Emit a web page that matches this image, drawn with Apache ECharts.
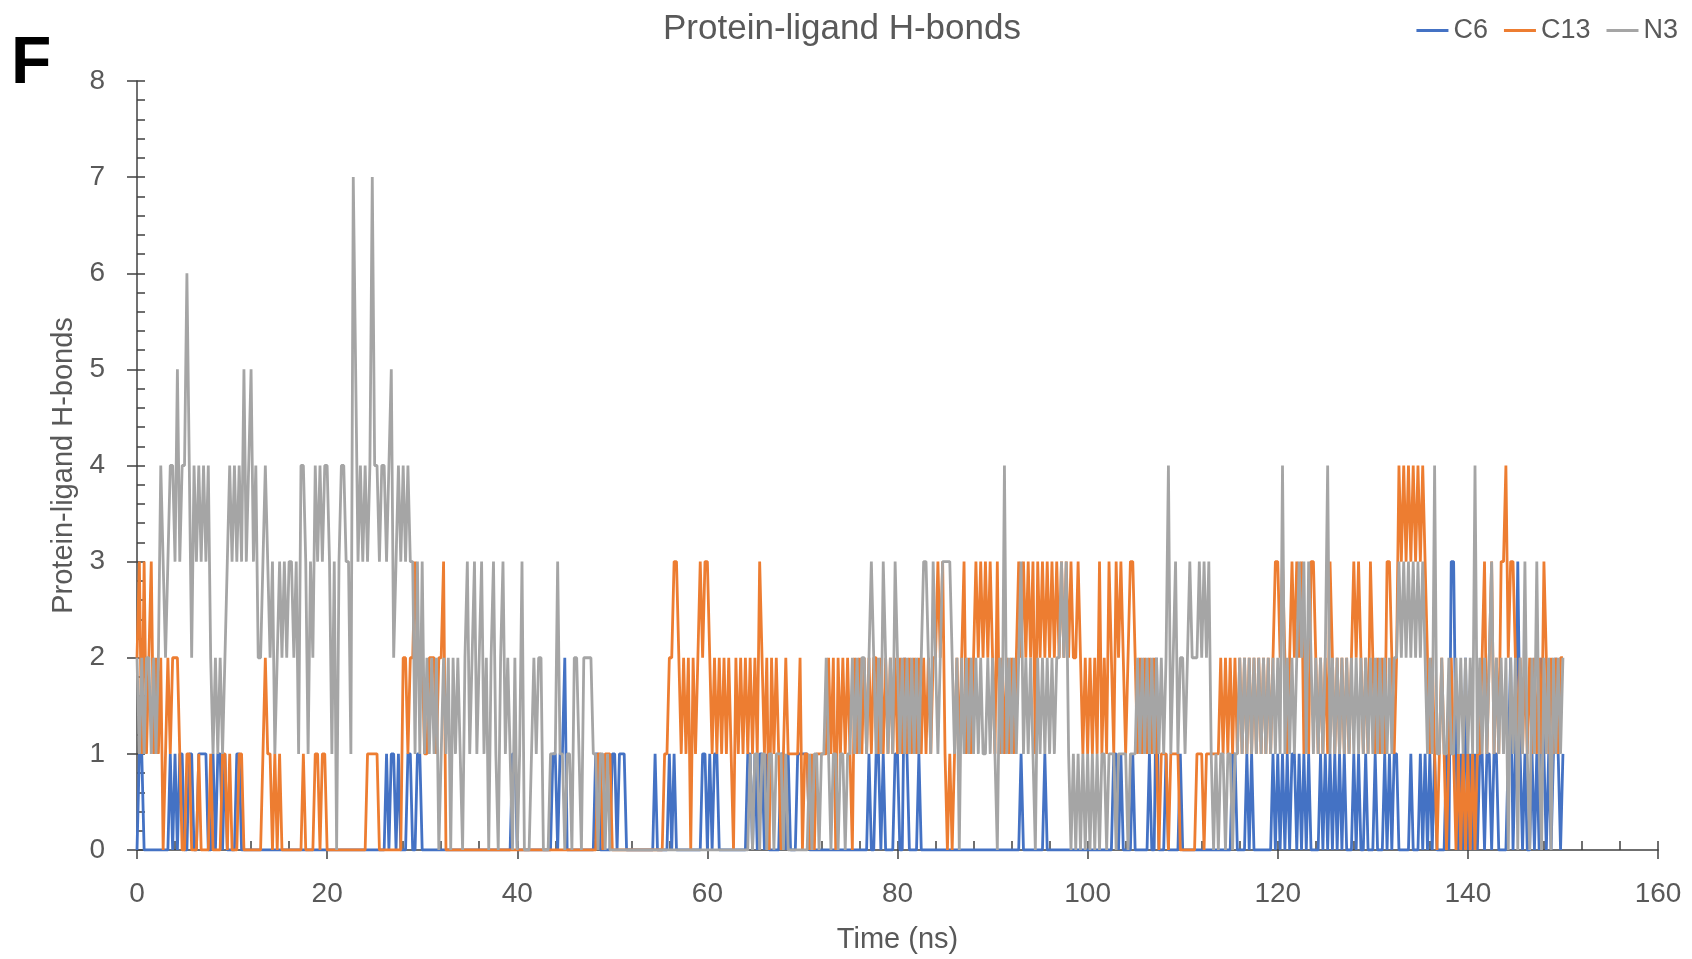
<!DOCTYPE html>
<html>
<head>
<meta charset="utf-8">
<title>Protein-ligand H-bonds</title>
<script src="https://cdn.jsdelivr.net/npm/echarts@6/dist/echarts.min.js"></script>
<style>
  html, body { margin: 0; padding: 0; background: #ffffff; }
  #chart { width: 1692px; height: 959px; }
</style>
</head>
<body>
<div id="chart"></div>
<script>
// Hydrogen-bond counts sampled every 0.25 ns, 0–150 ns (one row = 5 ns)
const timeStep = 0.25;
const seriesNames = ['C6', 'C13', 'N3'];
const xTicks = [0, 20, 40, 60, 80, 100, 120, 140, 160];
const yTicks = [0, 1, 2, 3, 4, 5, 6, 7, 8];

const c6 = [
  0,1,1,0,0, 0,0,0,0,0, 0,0,0,0,1, 0,1,0,1,1,
  0,0,1,1,0, 0,1,1,1,1, 0,0,1,0,1, 1,0,1,0,0,
  0,0,1,1,0, 0,0,0,0,0, 0,0,0,0,0, 0,0,0,0,0,
  0,0,0,0,0, 0,0,0,0,0, 0,0,0,0,0, 0,0,0,0,0,
  0,0,0,0,0, 0,0,0,0,0, 0,0,0,0,0, 0,0,0,0,0,
  0,0,0,0,0, 1,0,1,1,0, 1,0,0,0,1, 1,0,0,1,1,
  0,0,0,0,0, 0,0,0,0,0, 0,0,0,0,0, 0,0,0,0,0,
  0,0,0,0,0, 0,0,0,0,0, 0,0,0,0,0, 0,0,0,1,1,
  0,0,0,0,0, 0,0,0,0,0, 0,0,0,0,0, 1,1,0,1,1,
  2,0,0,0,0, 0,0,0,0,0, 0,0,0,1,1, 0,0,0,0,0,
  1,1,0,1,1, 1,0,0,0,0, 0,0,0,0,0, 0,0,0,1,0,
  0,0,0,0,1, 0,1,0,0,0, 0,0,0,0,0, 0,0,0,1,1,
  0,1,0,1,1, 0,0,0,0,0, 0,0,0,0,0, 0,0,1,1,0,
  1,0,1,1,0, 1,0,0,0,0, 0,1,1,0,1, 0,0,0,1,1,
  1,1,1,0,0, 0,0,0,0,0, 0,0,0,0,0, 0,0,0,0,0,
  0,0,0,0,0, 0,0,0,1,0, 0,1,1,0,1, 0,0,0,0,1,
  1,0,0,2,1, 0,0,0,0,1, 0,0,0,0,0, 0,0,0,0,0,
  0,0,0,0,0, 0,0,0,0,0, 0,0,0,0,0, 0,0,0,0,0,
  0,0,0,0,0, 0,0,0,0,0, 0,0,1,0,0, 0,0,0,0,0,
  0,0,1,0,0, 0,0,0,0,0, 0,0,0,0,0, 0,0,0,0,0,
  0,0,0,0,0, 0,0,0,0,0, 0,1,1,0,1, 0,0,0,0,1,
  0,0,0,0,0, 0,1,0,0,2, 0,0,0,1,0, 0,0,0,0,1,
  0,0,0,0,0, 0,0,0,0,0, 0,0,0,0,0, 0,0,0,0,0,
  0,1,1,0,0, 0,0,1,0,1, 0,0,0,0,0, 0,0,0,1,0,
  1,0,1,0,1, 0,1,1,0,1, 0,1,0,1,0, 0,0,0,1,0,
  1,0,1,0,1, 0,1,0,1,0, 0,0,1,0,1, 0,0,1,0,0,
  0,1,0,0,0, 1,0,1,0,1, 1,0,0,0,0, 0,1,0,0,0,
  1,0,1,0,1, 0,1,0,0,0, 0,1,0,3,3, 1,0,1,0,2,
  0,1,0,1,0, 1,1,0,1,1, 0,1,1,0,0, 0,0,1,2,0,
  1,3,1,0,1, 0,0,1,0,1, 0,2,1,0,1, 0,1,2,1,0,
  1
];

const c13 = [
  2,3,1,3,1, 2,3,1,2,1, 2,0,1,2,1, 2,2,2,1,0,
  0,1,1,0,0, 0,1,0,0,0, 0,1,0,0,0, 0,1,1,0,1,
  0,0,0,1,1, 0,0,0,0,0, 0,0,0,1,2, 1,1,0,1,0,
  1,0,0,0,0, 0,0,0,0,0, 1,0,0,0,0, 1,1,0,1,1,
  0,0,0,0,0, 0,0,0,0,0, 0,0,0,0,0, 0,0,1,1,1,
  1,1,0,0,0, 0,0,0,0,0, 0,0,2,2,1, 2,2,3,2,2,
  2,1,1,2,2, 2,1,2,2,3, 0,0,0,0,0, 0,0,0,0,0,
  0,0,0,0,0, 0,0,0,0,0, 0,0,0,0,0, 0,0,0,0,0,
  0,0,0,0,0, 0,0,0,0,0, 0,0,0,0,0, 0,0,0,0,0,
  0,0,0,0,0, 0,0,0,0,0, 0,0,0,0,1, 1,0,1,1,1,
  0,0,0,0,0, 0,0,0,0,0, 0,0,0,0,0, 0,0,0,0,0,
  0,0,1,1,2, 2,3,3,2,1, 2,1,2,0,2, 1,2,3,2,3,
  3,2,1,2,1, 2,1,2,1,2, 1,0,2,1,2, 1,2,1,2,1,
  2,1,3,2,1, 2,0,2,1,2, 1,0,1,2,1, 1,1,1,1,2,
  0,1,1,0,1, 0,1,1,1,1, 1,2,1,2,0, 2,1,2,1,2,
  1,0,2,1,2, 1,2,1,2,1, 2,2,1,2,1, 2,1,2,1,2,
  1,2,1,2,1, 2,1,2,1,2, 1,2,1,2,1, 2,2,3,2,3,
  1,0,1,0,1, 2,1,2,3,1, 2,1,2,3,2, 3,2,3,2,3,
  2,1,3,1,2, 1,2,1,2,1, 2,3,2,3,2, 3,2,3,1,3,
  2,3,2,3,2, 3,2,3,2,3, 2,3,2,3,2, 2,3,2,1,2,
  1,2,1,2,1, 3,1,2,1,3, 2,1,3,2,3, 2,1,2,3,3,
  2,1,2,1,2, 1,2,1,2,1, 0,1,1,1,0, 1,1,1,1,0,
  0,0,0,0,0, 0,1,1,1,0, 1,1,1,1,1, 1,2,1,2,1,
  2,1,2,1,2, 1,2,1,2,1, 2,1,2,1,2, 1,2,1,2,3,
  3,2,3,2,1, 2,3,2,3,2, 3,1,2,1,3, 3,2,1,2,1,
  2,1,3,2,1, 2,1,2,1,2, 1,2,3,2,3, 2,1,2,1,3,
  2,1,2,1,2, 1,3,3,2,1, 2,4,3,4,3, 4,3,4,3,4,
  3,4,3,2,1, 2,1,0,1,2, 1,0,1,2,1, 0,1,0,1,0,
  1,0,1,0,1, 1,2,3,1,2, 3,1,2,1,3, 3,4,2,3,3,
  2,1,2,1,2, 1,2,1,2,1, 2,1,3,2,1, 2,1,2,1,2,
  2
];

const n3 = [
  2,1,2,1,2, 2,1,2,1,2, 4,3,2,3,4, 4,3,5,3,4,
  4,6,4,2,4, 3,4,3,4,3, 4,2,1,2,1, 2,1,2,3,4,
  3,4,3,4,3, 5,3,4,5,3, 4,2,2,3,4, 3,2,3,1,2,
  3,2,3,2,3, 3,2,3,1,4, 4,3,1,3,2, 4,3,4,3,4,
  4,3,1,3,0, 3,4,4,3,3, 1,7,5,3,4, 3,4,3,4,7,
  4,4,3,4,4, 3,4,5,2,3, 4,3,4,3,4, 3,3,1,3,1,
  3,1,2,1,2, 1,2,0,1,2, 1,2,0,2,1, 2,1,0,2,3,
  1,2,3,1,2, 3,1,2,0,2, 3,1,0,2,3, 1,2,1,0,2,
  0,1,3,0,0, 0,1,2,1,2, 2,0,0,0,1, 1,1,3,1,1,
  0,1,1,0,2, 2,1,0,2,2, 2,2,1,1,0, 1,1,0,1,0,
  0,0,0,0,0, 0,0,0,0,0, 0,0,0,0,0, 0,0,0,0,0,
  0,0,0,0,0, 0,0,0,0,0, 0,0,0,0,0, 0,0,0,0,0,
  0,0,0,0,0, 0,0,0,0,0, 0,0,0,0,0, 0,0,0,1,0,
  1,1,0,1,1, 0,1,1,0,1, 1,1,0,1,0, 0,0,0,0,0,
  0,0,0,1,0, 1,1,0,1,1, 2,1,0,1,1, 0,1,1,0,1,
  1,2,1,2,1, 2,2,1,2,3, 2,1,2,1,3, 2,1,2,1,3,
  2,1,2,1,2, 1,2,1,2,1, 2,3,3,2,1, 3,2,1,2,3,
  3,3,3,2,1, 2,0,2,1,2, 1,2,1,2,1, 2,1,1,2,1,
  2,1,0,2,1, 4,1,2,1,2, 1,2,3,1,2, 1,2,1,0,2,
  1,2,1,2,1, 2,1,2,2,3, 2,3,1,0,1, 0,1,0,1,0,
  1,0,1,0,1, 0,1,1,0,1, 1,1,0,1,1, 1,1,0,1,1,
  1,2,1,2,1, 2,1,2,1,2, 1,2,1,2,4, 1,2,3,1,2,
  2,1,2,3,2, 2,2,3,2,3, 2,3,1,0,1, 0,1,1,0,1,
  1,0,1,1,2, 1,2,1,2,1, 2,1,2,1,2, 1,2,1,2,1,
  2,1,4,1,2, 1,2,1,2,3, 2,3,1,3,2, 1,2,1,2,1,
  2,4,1,2,1, 2,1,2,1,2, 1,2,1,2,1, 2,1,2,1,2,
  1,2,1,2,1, 2,1,2,1,2, 2,3,2,3,2, 3,2,3,2,3,
  2,3,2,1,2, 1,4,1,1,2, 1,1,2,1,1, 2,1,2,1,2,
  1,2,1,4,1, 2,1,2,1,2, 3,1,2,1,2, 1,2,0,2,1,
  2,0,2,1,3, 1,0,2,1,3, 1,0,2,1,2, 0,2,1,2,1,
  2
];

const seriesColors = ['#4472C4', '#ED7D31', '#A5A5A5'];
const textColor = '#595959';
const axisColor = '#404040';
const fontFamily = '"Liberation Sans", Arial, sans-serif';

function toPairs(values) {
  return values.map((v, i) => [i * timeStep, v]);
}

const seriesValues = [c6, c13, n3];

const chart = echarts.init(document.getElementById('chart'), null, { renderer: 'canvas' });

const axisTickStyle = { color: axisColor, width: 1.5 };

chart.setOption({
  animation: false,
  backgroundColor: '#ffffff',
  textStyle: { fontFamily: fontFamily },
  title: {
    text: 'Protein-ligand H-bonds',
    left: 663,
    top: 12,
    padding: 0,
    textStyle: { fontSize: 35, fontWeight: 'normal', color: textColor, fontFamily: fontFamily }
  },
  graphic: [{
    type: 'text',
    left: 11,
    top: 32,
    style: { text: 'F', font: 'bold 66px "Liberation Sans", Arial, sans-serif', fill: '#000000' }
  }],
  legend: {
    right: 9,
    top: 12,
    icon: 'rect',
    itemWidth: 32,
    itemHeight: 3,
    itemGap: 16,
    data: seriesNames,
    textStyle: { fontSize: 27, color: textColor, fontFamily: fontFamily }
  },
  grid: { left: 137, right: 34, top: 81, bottom: 105, containLabel: false },
  xAxis: [{
    type: 'value',
    min: xTicks[0],
    max: xTicks[xTicks.length - 1],
    interval: 20,
    name: 'Time (ns)',
    nameLocation: 'middle',
    nameGap: 75,
    nameTextStyle: { fontSize: 29, color: textColor, fontFamily: fontFamily },
    axisLine: { show: true, lineStyle: { color: axisColor, width: 1.5 } },
    axisTick: { show: true, inside: false, length: 9, lineStyle: axisTickStyle },
    axisLabel: { fontSize: 28, color: textColor, margin: 30, fontFamily: fontFamily },
    splitLine: { show: false }
  }, {
    type: 'value',
    min: xTicks[0],
    max: xTicks[xTicks.length - 1],
    interval: 20,
    position: 'bottom',
    axisLine: { show: false },
    axisTick: { show: true, inside: true, length: 9, lineStyle: axisTickStyle },
    minorTick: { show: true, splitNumber: 5, length: 9, lineStyle: axisTickStyle },
    axisLabel: { show: false },
    splitLine: { show: false }
  }],
  yAxis: [{
    type: 'value',
    min: yTicks[0],
    max: yTicks[yTicks.length - 1],
    interval: 1,
    name: 'Protein-ligand H-bonds',
    nameLocation: 'middle',
    nameGap: 55,
    nameTextStyle: { fontSize: 29, color: textColor, fontFamily: fontFamily },
    axisLine: { show: true, lineStyle: { color: axisColor, width: 1.5 } },
    axisTick: { show: true, inside: false, length: 10, lineStyle: axisTickStyle },
    axisLabel: { fontSize: 28, color: textColor, margin: 32, fontFamily: fontFamily },
    splitLine: { show: false }
  }, {
    type: 'value',
    min: yTicks[0],
    max: yTicks[yTicks.length - 1],
    interval: 1,
    position: 'left',
    axisLine: { show: false },
    axisTick: { show: true, inside: true, length: 8, lineStyle: axisTickStyle },
    minorTick: { show: true, splitNumber: 5, length: 8, lineStyle: axisTickStyle },
    axisLabel: { show: false },
    splitLine: { show: false }
  }],
  series: seriesNames.map((name, k) => ({
    name: name,
    type: 'line',
    xAxisIndex: 0,
    yAxisIndex: 0,
    data: toPairs(seriesValues[k]),
    symbol: 'none',
    showSymbol: false,
    sampling: null,
    color: seriesColors[k],
    lineStyle: { color: seriesColors[k], width: 2.8 },
    emphasis: { disabled: true }
  }))
});
</script>
</body>
</html>
